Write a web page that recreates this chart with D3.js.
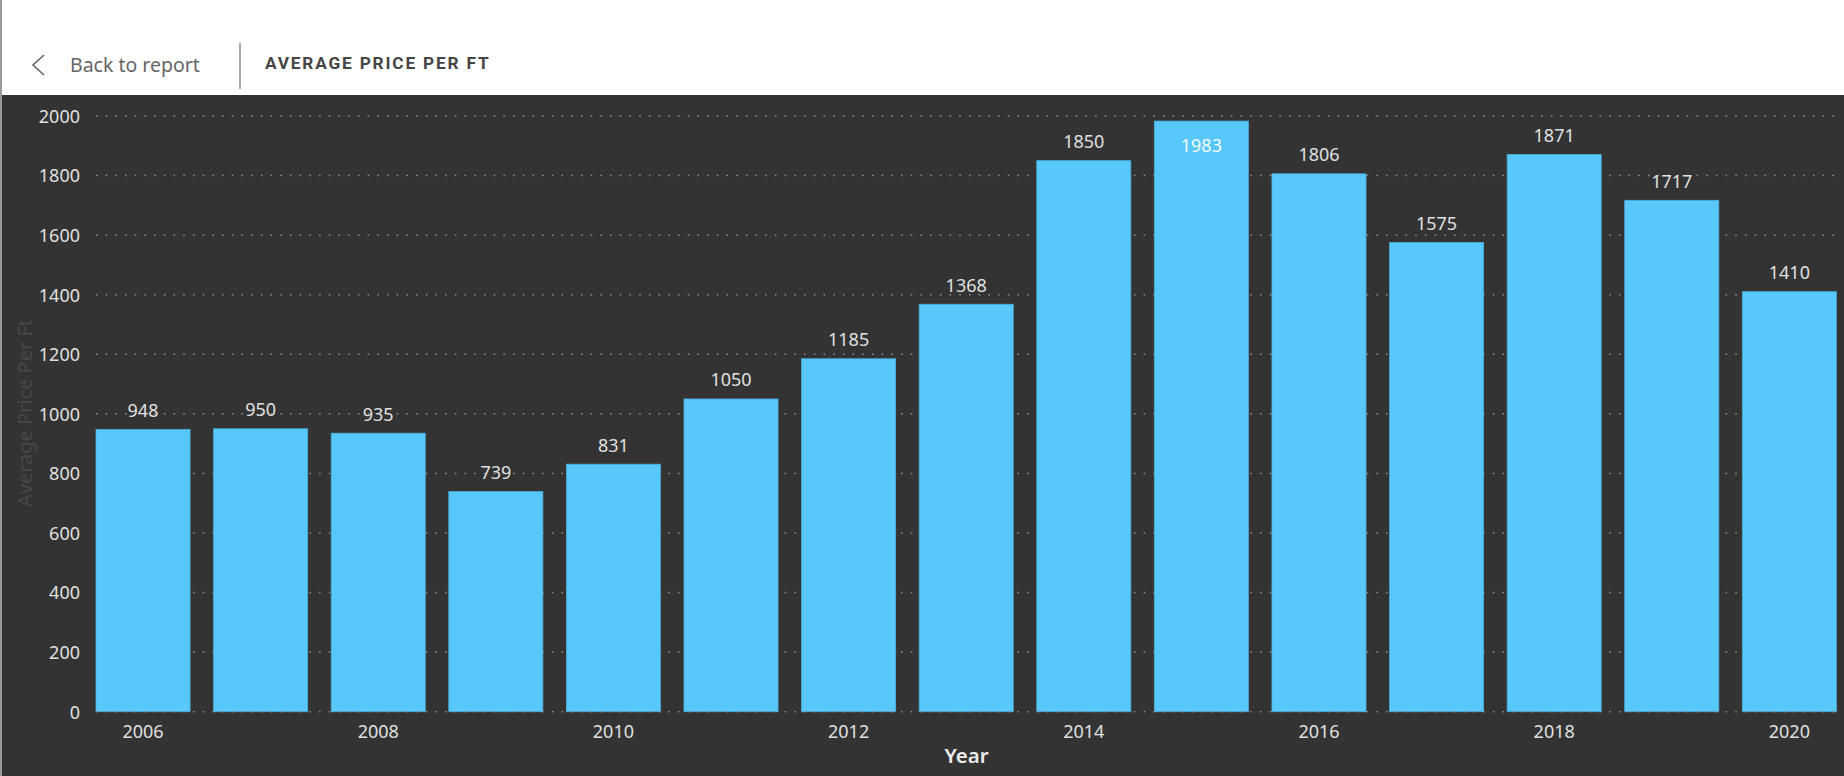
<!DOCTYPE html>
<html>
<head>
<meta charset="utf-8">
<script src="https://cdn.jsdelivr.net/npm/d3@7"></script>
<style>
  html, body { margin: 0; padding: 0; background: #ffffff; }
  svg { display: block; }
</style>
</head>
<body>
<svg id="chart" width="1844" height="776"></svg>
<script>
const years = ["2006","2007","2008","2009","2010","2011","2012","2013","2014","2015","2016","2017","2018","2019","2020"];
const avgPrice = [948, 950, 935, 739, 831, 1050, 1185, 1368, 1850, 1983, 1806, 1575, 1871, 1717, 1410];
const xTickLabels = ["2006","2008","2010","2012","2014","2016","2018","2020"];
const yTickValues = [0, 200, 400, 600, 800, 1000, 1200, 1400, 1600, 1800, 2000];
const titleText = "AVERAGE PRICE PER FT";
const backText = "Back to report";
const xTitle = "Year";
const yTitle = "Average Price Per Ft";

const W = 1844, H = 776;
const svg = d3.select("#chart");
const FONT = "'Noto Sans', 'Open Sans', sans-serif";

// header
svg.append("rect").attr("x", 0).attr("y", 0).attr("width", W).attr("height", 95).attr("fill", "#ffffff");
svg.append("path").attr("d", "M44,55 L33,65 L44,75").attr("fill", "none").attr("stroke", "#666").attr("stroke-width", 1.6);
svg.append("text").attr("x", 70).attr("y", 72).attr("font-family", FONT).attr("font-size", 19.5)
  .attr("fill", "#666").text(backText);
svg.append("line").attr("x1", 240).attr("x2", 240).attr("y1", 43).attr("y2", 89).attr("stroke", "#a8a8a8").attr("stroke-width", 2);
svg.append("text").attr("x", 265).attr("y", 69).attr("font-family", "'Roboto', sans-serif").attr("font-weight", 700)
  .attr("font-size", 17.3).attr("letter-spacing", 1.8).attr("fill", "#454545").text(titleText);

// dark panel
svg.append("rect").attr("x", 0).attr("y", 95).attr("width", W).attr("height", H - 95).attr("fill", "#333333");
svg.append("line").attr("x1", 1).attr("x2", 1).attr("y1", 0).attr("y2", H).attr("stroke", "#9a9a9a").attr("stroke-width", 2);

const y = d3.scaleLinear().domain([0, 2000]).range([711.7, 116]);
const x = d3.scaleBand().domain(years).range([96, 1836.4]).paddingInner(0.2).paddingOuter(0);

// gridlines
const grid = svg.append("g");
grid.selectAll("line").data(yTickValues.filter(d => d > 0)).join("line")
  .attr("x1", 96).attr("x2", 1837)
  .attr("y1", d => y(d)).attr("y2", d => y(d))
  .attr("stroke", "#8f8f8f").attr("stroke-width", 1.5).attr("stroke-dasharray", "1.5,8.2");

// y axis labels
const yAxis = d3.axisLeft(y).tickValues(yTickValues).tickSize(0).tickPadding(0).tickFormat(d3.format("d"));
const gy = svg.append("g").attr("transform", "translate(80,0)").call(yAxis);
gy.select(".domain").remove();
gy.selectAll("text").attr("font-family", FONT).attr("font-size", 18).attr("fill", "#e0e0e0").attr("dy", "0.35em");

// bars
svg.append("g").selectAll("rect").data(avgPrice).join("rect")
  .attr("x", (d, i) => x(years[i]))
  .attr("y", d => y(d))
  .attr("width", x.bandwidth())
  .attr("height", d => y(0) - y(d))
  .attr("fill", "#57C8F9")
  .attr("stroke", "#4AAFDC").attr("stroke-width", 0.8);

// zero line (dotted over bars)
svg.append("line").attr("x1", 96).attr("x2", 1837).attr("y1", y(0)).attr("y2", y(0))
  .attr("stroke", "#8f8f8f").attr("stroke-width", 1.5).attr("stroke-dasharray", "1.5,8.2");

// data labels
const plotTop = y(2000);
svg.append("g").selectAll("text").data(avgPrice).join("text")
  .attr("x", (d, i) => x(years[i]) + x.bandwidth() / 2)
  .attr("y", d => (y(d) - 13 - 14 < plotTop) ? y(d) + 31 : y(d) - 12.5)
  .attr("text-anchor", "middle")
  .attr("font-family", FONT).attr("font-size", 18)
  .attr("fill", d => (y(d) - 13 - 14 < plotTop) ? "#f4fbff" : "#e0e0e0")
  .text(d => d);

// x axis labels
const xAxis = d3.axisBottom(x).tickValues(xTickLabels).tickSize(0).tickPadding(0);
const gx = svg.append("g").attr("transform", "translate(0,738)").call(xAxis);
gx.select(".domain").remove();
gx.selectAll("text").attr("font-family", FONT).attr("font-size", 18).attr("fill", "#e0e0e0").attr("dy", 0);

// axis titles
svg.append("text").attr("x", 966.5).attr("y", 763).attr("text-anchor", "middle")
  .attr("font-family", FONT).attr("font-weight", 600).attr("font-size", 20.5).attr("fill", "#ececec").text(xTitle);
svg.append("text").attr("transform", "translate(32,413) rotate(-90)").attr("text-anchor", "middle")
  .attr("font-family", FONT).attr("font-size", 20).attr("fill", "#474747").text(yTitle);
</script>
</body>
</html>
